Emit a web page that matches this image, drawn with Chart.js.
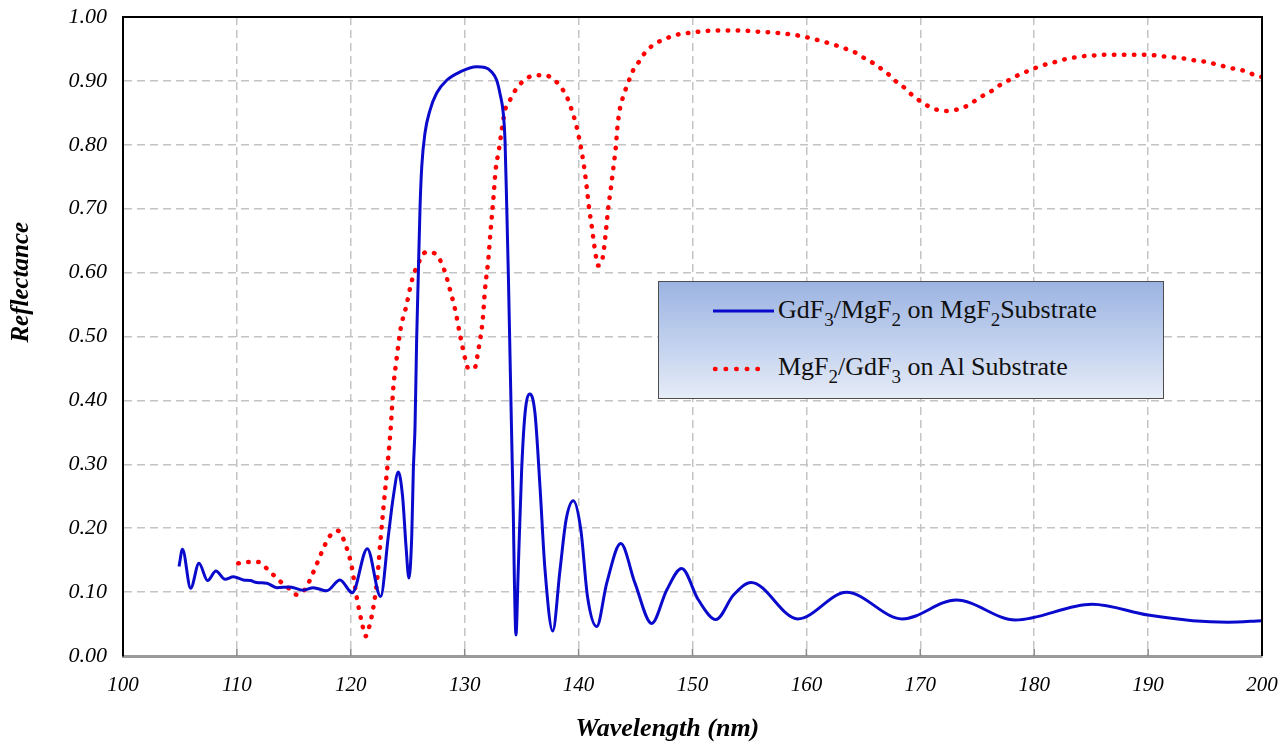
<!DOCTYPE html>
<html>
<head>
<meta charset="utf-8">
<script src="https://cdn.jsdelivr.net/npm/chart.js@4.4.1/dist/chart.umd.min.js"></script>
<style>
html,body{margin:0;padding:0;background:#fff;}
#wrap{position:relative;width:1287px;height:745px;overflow:hidden;}
canvas{display:block;}
#legend{position:absolute;left:658px;top:281px;width:506px;height:118px;box-sizing:border-box;border:1px solid #4d4d4d;
  background:linear-gradient(to bottom,#9cb4e2 0%,#c3d2ee 55%,#e6ecf7 100%);
  font-family:'Liberation Serif','Times New Roman',serif;font-size:26px;color:#111;}
#legend svg{position:absolute;left:53px;}
#legend .txt{position:absolute;left:119px;line-height:1;white-space:nowrap;}
#legend sub{font-size:19px;vertical-align:-8px;line-height:0;}
</style>
</head>
<body>
<div id="wrap">
<canvas id="c" width="1287" height="745"></canvas>
<div id="legend">
  <svg style="top:25px" width="64" height="8"><line x1="1" y1="4" x2="62" y2="4" stroke="#0a0acd" stroke-width="3"/></svg>
  <span class="txt" style="top:15px">GdF<sub>3</sub>/MgF<sub>2</sub> on MgF<sub>2</sub>Substrate</span>
  <svg style="top:83px" width="64" height="8"><line x1="3" y1="4" x2="56" y2="4" stroke="#ff0000" stroke-width="4.5" stroke-linecap="round" stroke-dasharray="0.5 10.1"/></svg>
  <span class="txt" style="top:72px">MgF<sub>2</sub>/GdF<sub>3</sub> on Al Substrate</span>
</div>
</div>
<script>
// ---- data ----
const seriesNames = ['GdF\u2083/MgF\u2082 on MgF\u2082 Substrate', 'MgF\u2082/GdF\u2083 on Al Substrate'];
const xAxisTitle = 'Wavelength (nm)';
const yAxisTitle = 'Reflectance';
const xTickValues = [100,110,120,130,140,150,160,170,180,190,200];
const yTickValues = [0,0.1,0.2,0.3,0.4,0.5,0.6,0.7,0.8,0.9,1.0];

const gdWavelength = [104.92,105.22,105.94,106.67,107.43,108.16,108.96,109.69,110.57,111.2,111.74,112.62,113.5,114.66,115.83,116.71,117.88,119.05,120.13,121.45,122.62,123.29,123.73,124.17,124.55,124.85,125.1,125.35,125.49,125.64,125.78,125.93,126.08,126.23,126.51,126.95,127.54,128.42,129.59,131.05,131.78,132.37,132.81,133.1,133.39,133.54,133.69,133.83,133.98,134.13,134.27,134.36,134.5,134.7,135.0,135.3,135.73,136.17,136.61,137.05,137.73,138.37,138.9,139.54,140.2,140.78,141.59,142.47,143.7,144.95,146.42,147.73,149.05,150.51,152.06,153.58,155.15,159.24,163.52,168.41,173.15,178.35,185.08,190.0,193.9,197.0,200.0];
const gdReflectance = [0.140,0.167,0.106,0.145,0.118,0.133,0.120,0.124,0.119,0.118,0.115,0.114,0.107,0.108,0.103,0.107,0.102,0.119,0.099,0.168,0.093,0.187,0.249,0.288,0.249,0.171,0.122,0.187,0.291,0.360,0.494,0.599,0.703,0.766,0.818,0.854,0.881,0.901,0.914,0.922,0.921,0.914,0.901,0.880,0.849,0.807,0.703,0.599,0.468,0.338,0.220,0.120,0.033,0.135,0.291,0.380,0.410,0.380,0.265,0.135,0.039,0.135,0.213,0.243,0.197,0.093,0.046,0.114,0.176,0.114,0.051,0.103,0.137,0.088,0.057,0.095,0.115,0.058,0.0996,0.058,0.0876,0.0563,0.081,0.064,0.0553,0.053,0.0553];

const mgWavelength = [110.12,111.0,111.9,112.62,113.2,113.85,114.55,115.25,115.92,116.36,117.06,117.76,118.17,118.85,119.64,120.08,120.52,121.0,121.3,121.62,121.98,122.33,122.62,122.86,123.2,123.5,123.73,124.03,124.38,124.82,125.4,126.08,126.6,127.39,128.21,128.71,129.15,129.65,130.03,130.32,130.85,131.2,131.58,131.78,132.07,132.28,132.51,132.72,133.0,133.25,133.54,133.98,134.36,134.92,135.65,136.47,137.26,138.02,138.58,139.02,139.33,139.83,140.19,140.48,140.71,140.89,141.15,141.38,141.73,142.11,142.34,142.61,142.84,143.05,143.26,143.4,143.63,143.87,144.13,144.45,144.8,145.3,145.74,146.39,147.11,147.91,148.81,149.64,150.54,152.24,154.04,155.78,157.55,159.28,160.97,162.71,163.5,164.33,165.05,165.85,166.57,167.22,167.87,168.56,169.21,169.86,170.65,171.44,172.27,173.18,174.0,174.73,175.52,176.32,177.04,177.76,178.59,179.39,180.22,181.05,181.91,182.74,183.65,184.48,185.38,186.25,187.98,189.78,190.61,191.52,193.21,194.12,195.02,196.64,197.55,198.38,199.24,200.0];
const mgReflectance = [0.145,0.147,0.147,0.137,0.127,0.116,0.106,0.096,0.103,0.117,0.146,0.175,0.188,0.196,0.169,0.140,0.092,0.050,0.031,0.046,0.076,0.122,0.184,0.231,0.294,0.356,0.419,0.466,0.513,0.544,0.590,0.620,0.632,0.630,0.604,0.573,0.543,0.497,0.466,0.450,0.450,0.479,0.526,0.573,0.620,0.667,0.714,0.761,0.792,0.823,0.854,0.870,0.883,0.896,0.906,0.909,0.908,0.899,0.887,0.873,0.858,0.828,0.797,0.766,0.734,0.705,0.673,0.642,0.611,0.623,0.655,0.702,0.733,0.764,0.795,0.826,0.857,0.873,0.887,0.902,0.917,0.930,0.942,0.954,0.962,0.968,0.973,0.975,0.977,0.979,0.979,0.977,0.975,0.971,0.964,0.955,0.950,0.944,0.936,0.928,0.919,0.910,0.899,0.890,0.879,0.870,0.861,0.855,0.853,0.855,0.860,0.868,0.877,0.885,0.894,0.901,0.909,0.915,0.921,0.926,0.930,0.934,0.937,0.939,0.940,0.941,0.941,0.941,0.940,0.938,0.935,0.932,0.930,0.923,0.919,0.916,0.910,0.906];

// ---- chart ----
const toPoints = (xs, ys) => xs.map((x, i) => ({x: x, y: ys[i]}));
const serif = "'Liberation Serif','Times New Roman',serif";

const framePlugin = {
  id: 'frame',
  afterDatasetsDraw(chart) {
    const {ctx, chartArea: a, scales: {x, y}} = chart;
    ctx.save();
    // inward tick marks on the bottom axis
    ctx.strokeStyle = '#8a8a8a';
    ctx.lineWidth = 1.5;
    xTickValues.slice(1, -1).forEach(v => {
      const px = x.getPixelForValue(v);
      ctx.beginPath(); ctx.moveTo(px, a.bottom); ctx.lineTo(px, a.bottom - 7); ctx.stroke();
    });
    // top and right frame lines
    ctx.strokeStyle = '#000';
    ctx.lineWidth = 2;
    ctx.beginPath();
    ctx.moveTo(a.left - 1, a.top); ctx.lineTo(a.right, a.top); ctx.lineTo(a.right, a.bottom);
    ctx.stroke();
    // axis titles
    ctx.fillStyle = '#000';
    ctx.textAlign = 'center';
    ctx.textBaseline = 'middle';
    ctx.font = 'italic bold 26px ' + serif;
    ctx.fillText(xAxisTitle, x.getPixelForValue(147.8), 729);
    ctx.translate(22, y.getPixelForValue(0.585));
    ctx.rotate(-Math.PI / 2);
    ctx.font = 'italic bold 25px ' + serif;
    ctx.fillText(yAxisTitle, 0, 0);
    ctx.restore();
  }
};

const isEdge = (v, lo, hi) => Math.abs(v - lo) < 1e-9 || Math.abs(v - hi) < 1e-9;
const clear = 'rgba(0,0,0,0)';

new Chart(document.getElementById('c'), {
  type: 'line',
  data: {
    datasets: [
      {
        label: seriesNames[0],
        data: toPoints(gdWavelength, gdReflectance),
        borderColor: '#0a0acd',
        borderWidth: 3,
        pointRadius: 0,
        cubicInterpolationMode: 'monotone',
        fill: false
      },
      {
        label: seriesNames[1],
        data: toPoints(mgWavelength, mgReflectance),
        borderColor: '#ff0000',
        borderWidth: 4.5,
        borderDash: [0.5, 9.5],
        borderCapStyle: 'round',
        pointRadius: 0,
        cubicInterpolationMode: 'monotone',
        fill: false
      }
    ]
  },
  options: {
    responsive: false,
    devicePixelRatio: 1,
    animation: false,
    events: [],
    layout: {padding: {top: 17, right: 25, left: 0, bottom: 0}},
    plugins: {legend: {display: false}, tooltip: {enabled: false}, title: {display: false}},
    scales: {
      x: {
        type: 'linear',
        min: xTickValues[0],
        max: xTickValues[xTickValues.length - 1],
        afterBuildTicks: s => { s.ticks = xTickValues.map(v => ({value: v})); },
        afterFit: s => { s.height = 89; },
        ticks: {
          autoSkip: false, maxRotation: 0, padding: 3, color: '#000',
          font: {family: serif, style: 'italic', size: 21},
          callback: v => String(v)
        },
        grid: {
          drawTicks: true,
          tickLength: 14,
          tickColor: clear,
          lineWidth: 1.5,
          color: c => (c.tick && isEdge(c.tick.value, 100, 200)) ? clear : '#c4c4c4'
        },
        border: {display: true, color: '#9a9a9a', width: 3, dash: [8, 5]}
      },
      y: {
        type: 'linear',
        min: 0,
        max: 1,
        afterBuildTicks: s => { s.ticks = yTickValues.map(v => ({value: v})); },
        afterFit: s => { s.width = 123; },
        ticks: {
          padding: 3, color: '#000',
          font: {family: serif, style: 'italic', size: 22},
          callback: v => Number(v).toFixed(2)
        },
        grid: {
          drawTicks: true,
          tickLength: 13,
          tickColor: clear,
          lineWidth: 1.5,
          color: c => (c.tick && isEdge(c.tick.value, 0, 1)) ? clear : '#c4c4c4'
        },
        border: {display: true, color: '#000', width: 2, dash: [8, 5]}
      }
    }
  },
  plugins: [framePlugin]
});
</script>
</body>
</html>
